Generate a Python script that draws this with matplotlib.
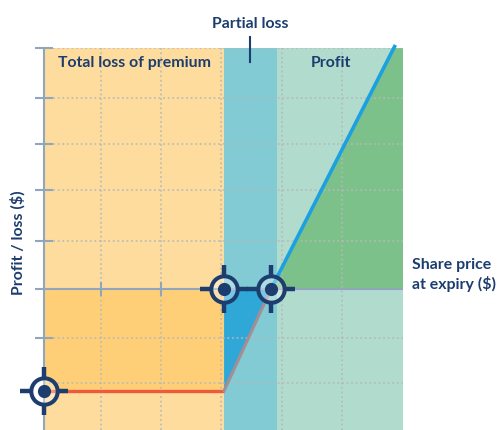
import matplotlib
matplotlib.use("Agg")
import matplotlib.pyplot as plt
from matplotlib.path import Path

plt.rcParams['font.family'] = ['Lato', 'DejaVu Sans']

W, H = 499, 430
NAVY = '#1c3d6e'
AXIS = '#8fa6bc'
GRID = '#b4b9bb'

# values
grid_x = [0.97, 1.97, 2.97, 3.98, 4.98]
axis_ticks_y = [5.02, 3.98, 3.02, 2.06, 1.0, 0, -1.02]
grid_y_extra = [-1.96]
xlim = (0.03, 5.99)
ylim = (-2.94, 5.02)

strike = 3.02
breakeven = 3.8
partial_end = 3.9
max_loss = -2.12
line_end_x = [5.85]
line_end_y = [5.05]

loss_x = [0.03, strike]
loss_y = [max_loss, max_loss]
partial_x = [strike, breakeven]
partial_y = [max_loss, 0]
profit_x = [breakeven, line_end_x[0]]
profit_y = [0, line_end_y[0]]
target_x = [0.03, strike, breakeven]
target_y = [max_loss, 0, 0]

fig = plt.figure(figsize=(W / 100, H / 100), dpi=100)
ax = fig.add_axes([44 / W, 0, (403 - 44) / W, (430 - 48) / H])
ax.set_xlim(xlim)
ax.set_ylim(ylim)

# coloured zones
ax.axvspan(xlim[0], strike, color='#fddc9e', lw=0, zorder=1)
ax.axvspan(strike, partial_end, color='#82cad4', lw=0, zorder=1)
ax.axvspan(partial_end, xlim[1], color='#b0dbcd', lw=0, zorder=1)
ax.fill_between([xlim[0], strike], max_loss, 0, color='#ffcf78', lw=0, zorder=1.1)
ax.fill([strike, breakeven, strike], [0, 0, max_loss], color='#2fa8d8', lw=0, zorder=1.1)
ax.fill([breakeven, line_end_x[0], xlim[1], xlim[1]], [0, ylim[1], ylim[1], 0],
        color='#7dc18a', lw=0, zorder=1.1)

# axes and grid
ax.set_xticks(grid_x)
ax.set_yticks(axis_ticks_y)
ax.set_yticks(grid_y_extra, minor=True)
ax.set_xticklabels([])
ax.set_yticklabels([])
ax.grid(True, which='both', color=GRID, lw=1.1, ls=(0, (1.2, 1.8)), zorder=1.5)
ax.tick_params(axis='x', length=0)
ax.tick_params(axis='y', which='major', direction='inout', length=13, width=1.5, color=AXIS)
ax.tick_params(axis='y', which='minor', length=0)
for s in ['top', 'right', 'bottom']:
    ax.spines[s].set_visible(False)
ax.spines['left'].set_color(AXIS)
ax.spines['left'].set_linewidth(1.5)
ax.axhline(0, color=AXIS, lw=1.5, zorder=2)
ax.vlines(grid_x[:2], -0.14, 0.14, color=AXIS, lw=1.5, zorder=2)

# payoff
ax.plot(loss_x, loss_y, color='#ee5a3a', lw=2.4, zorder=3, solid_capstyle='butt')
ax.plot(partial_x, partial_y, color='#a58d93', lw=2.2, zorder=3)
ax.plot(profit_x, profit_y, color='#1ba1e2', lw=2.6, zorder=3, clip_on=False)

# crosshair markers
arms = Path([(-1, 0), (-0.6, 0), (0.6, 0), (1, 0), (0, -1), (0, -0.6), (0, 0.6), (0, 1)],
            [Path.MOVETO, Path.LINETO] * 4)
ax.plot(target_x, target_y, ls='', marker='o', ms=19, mfc=(1, 1, 1, 0.35), mec=NAVY, mew=2.9,
        zorder=4, clip_on=False)
ax.plot(target_x, target_y, ls='', marker='o', ms=9.5, mfc=NAVY, mec=NAVY, mew=0, zorder=5, clip_on=False)
ax.plot(target_x, target_y, ls='', marker=arms, ms=34, mfc='none', mec=NAVY, mew=3.2, zorder=5, clip_on=False)

# labels
def label(x, y, s, **kw):
    fig.text(x / W, 1 - y / H, s, color=NAVY, fontweight='bold', fontsize=11.4, **kw)

label(134.5, 63, 'Total loss of premium', ha='center', va='center')
label(331, 63, 'Profit', ha='center', va='center')
label(250, 24, 'Partial loss', ha='center', va='center')
label(18, 243, 'Profit / loss ($)', ha='center', va='center', rotation=90)
label(412, 275, 'Share price\nat expiry ($)', ha='left', va='center', linespacing=1.3)
fig.add_artist(plt.Line2D([250 / W, 250 / W], [1 - 37 / H, 1 - 62 / H], color=NAVY, lw=1.5))

fig.savefig('out.png', dpi=100)
